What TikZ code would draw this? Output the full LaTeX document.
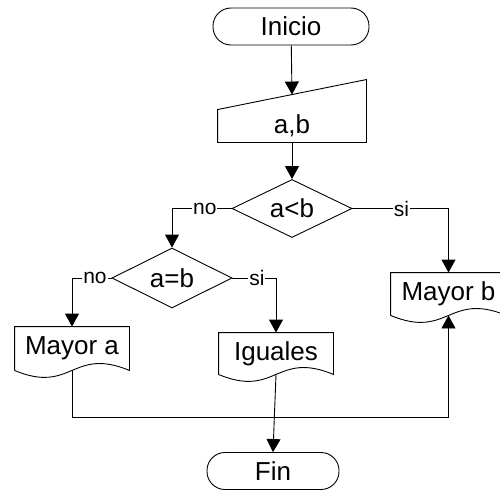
\documentclass[tikz,border=0pt]{standalone}
\usepackage{fontspec}
\setmainfont{Liberation Sans}
\usetikzlibrary{shapes.geometric,arrows.meta,calc}

\tikzset{
  flecha/.style={-{Triangle[length=13pt,width=14pt]}},
  caja/.style={inner sep=0pt,font=\fontsize{26}{31}\selectfont},
  decision/.style={caja,diamond,draw,aspect=2,minimum width=120pt,minimum height=58pt},
  terminal/.style={caja,draw,rectangle,rounded corners=18pt,minimum height=37pt},
  etiqueta/.style={fill=white,inner sep=1pt,font=\fontsize{21}{25}\selectfont},
}
% contorno de documento con borde ondulado
\newcommand{\documento}[1]{%
  \draw (#1.south west) -- (#1.north west) -- (#1.north east) -- (#1.south east)
    .. controls ($(#1.south)+(0,-24)$) and ($(#1.south)+(0,24)$) .. (#1.south west);}

\begin{document}
\begin{tikzpicture}[x=1pt,y=-1pt,line width=0.9pt]
	\useasboundingbox (0,0) rectangle (500,492);
	
	% Inicio y lectura
	\node[terminal,minimum width=156pt] (ini) at (291,26.5) {Inicio};
	\node[caja,minimum width=148pt,minimum height=32pt] (lee) at (292,126) {a,b};
	\draw (lee.south west) -- (lee.north west) -- ($(lee.north east)+(0,-30)$) -- (lee.south east) -- cycle;
	\coordinate (leearriba) at ($(lee.north)+(0,-15)$);
	
	% Decisiones
	\node[decision] (c1) at (292,208.5) {a<b};
	\node[decision,minimum height=60pt] (c2) at (172,278) {a=b};
	
	% Salidas
	\node[caja,minimum width=114pt,minimum height=43pt] (ma) at (72,348.5) {Mayor a};
	\documento{ma}
	\node[caja,minimum width=114pt,minimum height=41pt] (ig) at (276,353.5) {Iguales};
	\documento{ig}
	\node[caja,minimum width=115pt,minimum height=42pt] (mb) at (448.5,294) {Mayor b};
	\documento{mb}
	
	% Fin
	\node[terminal,minimum width=132pt] (fin) at (273,471) {Fin};
	
	% Conectores
	\draw[flecha] (ini) -- (leearriba);
	\draw[flecha] (lee) -- (c1);
	\draw[flecha] (c1.east) -| node[etiqueta,pos=0.255] {si} (mb.north);
	\draw[flecha] (c1.west) -| node[etiqueta,pos=0.225] {no} (c2.north);
	\draw[flecha] (c2.west) -| node[etiqueta,pos=0.21] {no} (ma.north);
	\draw[flecha] (c2.east) -| node[etiqueta,pos=0.28] {si} (ig.north);
	\draw[flecha] (ig.south) -- (fin.north);
	\coordinate (baja) at (72,417);
	\draw[flecha] (ma.south) -- (baja) -| (mb.south);
	
\end{tikzpicture}
\end{document}
